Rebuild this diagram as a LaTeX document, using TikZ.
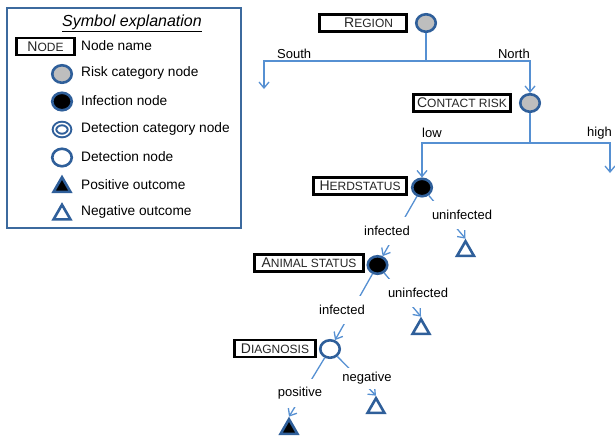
\documentclass[tikz,border=0pt]{standalone}
\usepackage{fontspec}
\setmainfont{Liberation Sans}
\usetikzlibrary{shapes.geometric,arrows.meta}

\definecolor{rim}{HTML}{2F5F9A}
\definecolor{wire}{HTML}{5690D2}
\definecolor{frame}{HTML}{3C6A9E}
\definecolor{riskgray}{HTML}{BEBEBE}

% small-caps look: large initial, smaller capitals after it
\newcommand{\capsname}[2]{{\fontsize{14}{15}\selectfont #1}{\fontsize{12}{13}\selectfont #2}}

\tikzset{
  namebox/.style={draw=black, line width=2.8pt, fill=white, minimum height=17pt,
    inner xsep=3pt, inner ysep=0pt, text=black!85},
  catnode/.style={ellipse, draw=rim, line width=2.6pt, minimum width=19.5pt,
    minimum height=17.5pt, inner sep=0pt},
  risknode/.style={catnode, fill=riskgray},
  infnode/.style={catnode, fill=black},
  detnode/.style={catnode, fill=white},
  detcatnode/.style={ellipse, draw=rim, line width=2pt, double=white,
    double distance=1.5pt, minimum width=15pt, minimum height=12pt, inner sep=0pt},
  outcome/.style={regular polygon, regular polygon sides=3, draw=rim,
    line width=2.6pt, minimum size=19.5pt, inner sep=0pt},
  posout/.style={outcome, fill=black},
  negout/.style={outcome, fill=white},
  wirel/.style={draw=wire, line width=1.3pt},
  arrowwire/.style={wirel, -{Straight Barb[length=6pt,width=10pt]}},
  legtext/.style={anchor=west, inner sep=0pt, font=\fontsize{13.7}{15}\selectfont},
  branchlabel/.style={inner sep=0pt, font=\fontsize{13}{15}\selectfont},
  edgelabel/.style={fill=white, inner xsep=1pt, inner ysep=0pt, minimum height=28pt,
    font=\fontsize{13}{15}\selectfont}
}

\begin{document}
\begin{tikzpicture}[x=1pt, y=-1pt]
\useasboundingbox (0,0) rectangle (615,440);

% ---------- legend ----------
\draw[frame, line width=2.6pt] (7,8) rectangle (241,228);
\node[inner sep=0pt, font=\fontsize{16}{18}\selectfont\itshape] (legtitle) at (132,23)
  {\underline{Symbol explanation}};

\node[namebox, minimum width=58.5pt] (legname) at (45.5,46.5) {\capsname{N}{ODE}};
\node[legtext] (legnametxt) at (81,46) {Node name};

\node[risknode] (legrisk) at (62,74) {};
\node[legtext] (legrisktxt) at (81,73) {Risk category node};

\node[infnode] (leginf) at (62,101.5) {};
\node[legtext] (leginftxt) at (81,101) {Infection node};

\node[detcatnode] (legdetcat) at (62,129.5) {};
\node[legtext] (legdetcattxt) at (81,128.5) {Detection category node};

\node[detnode] (legdet) at (62,157.5) {};
\node[legtext] (legdettxt) at (81,156.5) {Detection node};

\node[posout] (legpos) at (62,187) {};
\node[legtext] (legpostxt) at (81,184.5) {Positive outcome};

\node[negout] (legneg) at (62,214.5) {};
\node[legtext] (legnegtxt) at (81,212) {Negative outcome};

% ---------- decision tree nodes ----------
\node[namebox, minimum width=87.5pt, text width=60pt, align=right] (regionname) at (363,23)
  {\capsname{R}{EGION}};
\node[risknode] (region) at (426,23) {};

\node[namebox, minimum width=97.5pt] (contactname) at (462,103) {\capsname{C}{ONTACT RISK}};
\node[risknode] (contact) at (530,103) {};

\node[namebox, minimum width=93.5pt] (herdname) at (360,186) {\capsname{H}{ERDSTATUS}};
\node[infnode] (herd) at (422,187.5) {};

\node[namebox, minimum width=109.5pt] (animalname) at (309,263) {\capsname{A}{NIMAL STATUS}};
\node[infnode] (animal) at (377.5,265) {};

\node[namebox, minimum width=81.5pt] (diagname) at (275,348.5) {\capsname{D}{IAGNOSIS}};
\node[detnode] (diag) at (330,349) {};

\node[negout] (herdneg) at (465.5,251) {};
\node[negout] (animalneg) at (421,329) {};
\node[negout] (diagneg) at (376,408) {};
\node[posout] (diagpos) at (289,429) {};

% ---------- branches ----------
\coordinate (regionsplit) at (426,61);
\coordinate (southend) at (264,89);
\draw[wirel] (region) -- (regionsplit);
\draw[arrowwire] (regionsplit) -| (southend);
\draw[arrowwire] (regionsplit) -| (contact);
\node[branchlabel, anchor=west] (southlab) at (277,54) {South};
\node[branchlabel, anchor=east] (northlab) at (530,54) {North};

\coordinate (contactsplit) at (530,143);
\coordinate (highend) at (610,173);
\draw[wirel] (contact) -- (contactsplit);
\draw[arrowwire] (contactsplit) -| (herd);
\draw[arrowwire] (contactsplit) -| (highend);
\node[branchlabel, anchor=west] (lowlab) at (422,133) {low};
\node[branchlabel, anchor=east] (highlab) at (612,133) {high};

% diagonal edges, labels laid over them
\draw[arrowwire] (herd) -- (animal);
\draw[arrowwire] (herd) -- (herdneg.north);
\draw[arrowwire] (animal) -- (diag);
\draw[arrowwire] (animal) -- (animalneg.north);
\draw[arrowwire] (diag) -- (diagpos.north);
\draw[arrowwire] (diag) -- (diagneg.north);

\node[edgelabel] (herdinf) at (387,231) {infected};
\node[edgelabel] (herdun) at (462,215) {uninfected};
\node[edgelabel] (animalinf) at (342,310) {infected};
\node[edgelabel] (animalun) at (418,293) {uninfected};
\node[edgelabel] (diagposlab) at (300,393) {positive};
\node[edgelabel, minimum height=21pt] (diagneglab) at (367,378) {negative};
\end{tikzpicture}
\end{document}
